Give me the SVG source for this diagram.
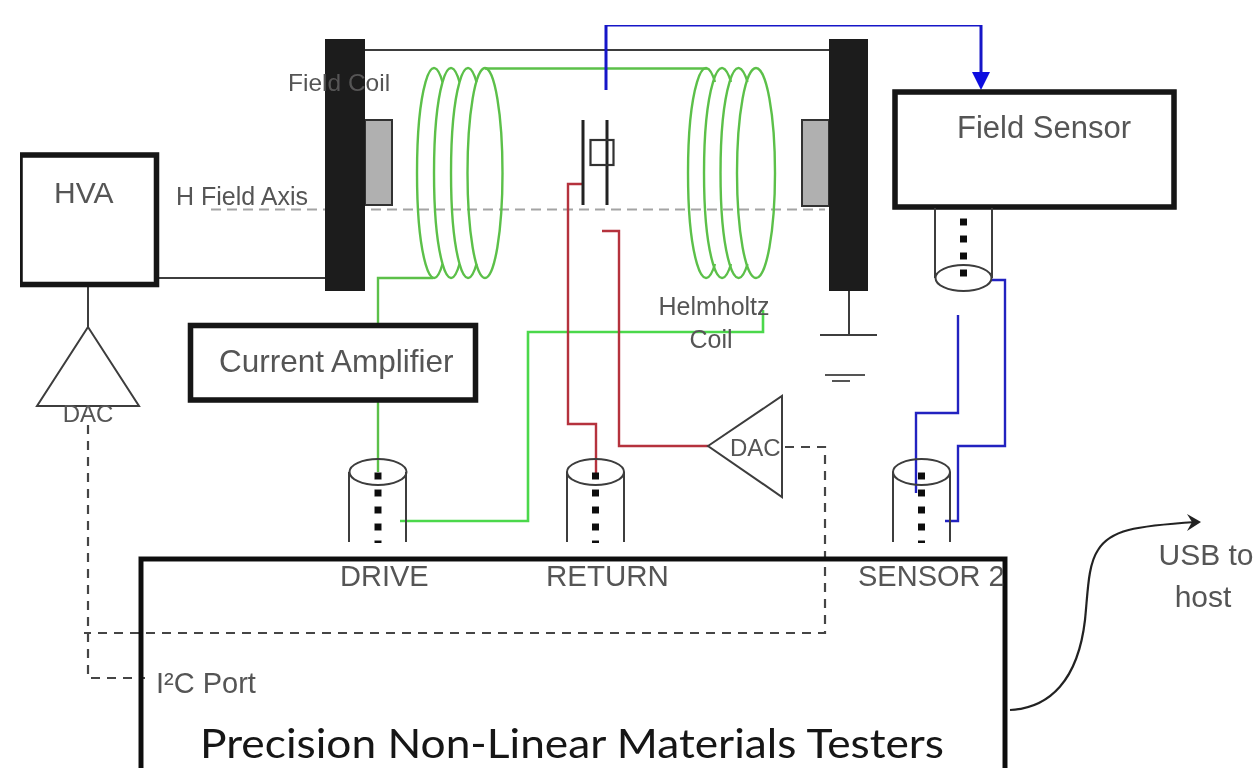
<svg xmlns="http://www.w3.org/2000/svg" width="1260" height="768" viewBox="0 0 1260 768">
<defs>
<style>
.t{font-family:"Liberation Sans",Arial,sans-serif;fill:#555}
.u{font-family:"Lato","Open Sans",sans-serif;fill:#141414}
.bx{fill:none;stroke:#141414;stroke-width:5.500}
.thin{fill:none;stroke:#3c3c3c;stroke-width:2}
.green{fill:none;stroke:#5cc04a;stroke-width:2.400}
.lime{fill:none;stroke:#4cd84c;stroke-width:2.600}
.red{fill:none;stroke:#b5303c;stroke-width:2.400}
.blue{fill:none;stroke:#2020c0;stroke-width:2.400}
.dash{fill:none;stroke:#444;stroke-width:2.200;stroke-dasharray:9 7}
.dots{stroke:#111;stroke-width:7;stroke-dasharray:7 10;fill:none}
.block{fill:#b0b0b0;stroke:#333;stroke-width:2}
.bar{fill:#1d1a1b}
</style>
<filter id="soft" x="0" y="0" width="100%" height="100%"><feGaussianBlur stdDeviation="0.6"/></filter>
</defs>
<rect width="1260" height="768" fill="#fff"/>
<g filter="url(#soft)">
<g id="connectors">
<path class="thin" d="M365 50H829"/>
<path class="thin" d="M156 278H325"/>
<path class="thin" d="M88 286V327"/>
<path class="thin" d="M849 291V335"/>
<path d="M211 209.500H825" fill="none" stroke="#a4a4a4" stroke-width="2.200" stroke-dasharray="10 6"/>
<path class="green" d="M485 68.500H707"/>
<path class="green" d="M433 278H378V325M378 400V472"/>
<path class="lime" d="M400 521H528V332H763V310"/>
<path class="red" d="M582 184H568V424H596V475"/>
<path class="red" d="M602 231H619V446H708"/>
<path d="M606 90V25H981V74" fill="none" stroke="#1414c8" stroke-width="3"/>
<path d="M972 72H990L981 90Z" fill="#1010e0"/>
<path class="blue" d="M986 280H1005V446H958V521H945"/>
<path class="blue" d="M958 315V413H916V493"/>
<path class="dash" d="M785 447H825V633H84"/>
<path class="dash" d="M88 425V678H145"/>
<path d="M1010 710C1050 708 1078 680 1085 620C1088 590 1088 565 1098 550C1110 530 1135 526 1196 522" fill="none" stroke="#222" stroke-width="2.200"/>
<path d="M1187 514L1201 522L1187 531L1192 522Z" fill="#222"/>
</g>
<g id="field-coil-left">
<rect class="block" x="365" y="120" width="27" height="85"/>
<rect class="bar" x="325" y="39" width="40" height="252"/>
<text class="t" x="288" y="91" font-size="24.500">Field Coil</text>
</g>
<g id="field-coil-right">
<rect class="block" x="802" y="120" width="27" height="86"/>
<rect class="bar" x="829" y="39" width="39" height="252"/>
</g>
<g id="left-coil">
<path class="green" d="M442.500 82A17 105 0 1 0 442.500 264"/>
<path class="green" d="M459.500 82A17 105 0 1 0 459.500 264"/>
<path class="green" d="M476.500 82A17 105 0 1 0 476.500 264"/>
<ellipse class="green" cx="485" cy="173" rx="17.500" ry="105"/>
</g>
<g id="right-coil">
<path class="green" d="M715 82A18 105 0 1 0 715 264"/>
<path class="green" d="M731 82A18 105 0 1 0 731 264"/>
<path class="green" d="M747.500 82A18 105 0 1 0 747.500 264"/>
<ellipse class="green" cx="756" cy="173" rx="19" ry="105"/>
</g>
<g id="axis-label"><text class="t" x="176" y="205" font-size="25">H Field Axis</text></g>
<g id="helmholtz-label">
<text class="t" x="714" y="315" font-size="25" text-anchor="middle">Helmholtz</text>
<text class="t" x="711" y="348" font-size="25" text-anchor="middle">Coil</text>
</g>
<g id="sample">
<path d="M583 120V205M607 120V205" fill="none" stroke="#222" stroke-width="3"/>
<rect x="590.500" y="140" width="23" height="25" fill="none" stroke="#333" stroke-width="2.200"/>
</g>
<g id="hva">
<rect class="bx" x="20" y="155" width="136.500" height="129.500"/>
<text class="t" x="54" y="203" font-size="30">HVA</text>
</g>
<g id="dac-left">
<path class="thin" d="M88 327L37 406H139Z"/>
<text class="t" x="88" y="422" font-size="24" text-anchor="middle">DAC</text>
</g>
<g id="current-amplifier">
<rect class="bx" x="190.500" y="325.500" width="285" height="74.500"/>
<text class="t" x="219" y="372" font-size="31.500">Current Amplifier</text>
</g>
<g id="field-sensor">
<rect class="bx" x="895" y="92" width="279" height="115"/>
<text class="t" x="957" y="138" font-size="31">Field Sensor</text>
<path class="thin" d="M935 208V278M992 208V278"/>
<ellipse cx="963.500" cy="278" rx="28" ry="13" fill="#fff" stroke="#3c3c3c" stroke-width="2"/>
<path class="dots" d="M963.500 218.500V277"/>
</g>
<g id="ground"><path class="thin" d="M820 335H877"/><path d="M825 375H865M832 381H850" fill="none" stroke="#555" stroke-width="2"/></g>
<g id="dac-right">
<path class="thin" d="M708 446L782 396V497Z"/>
<text class="t" x="730" y="456" font-size="24">DAC</text>
</g>
<g id="drive">
<path class="thin" d="M349 472V542M406 472V542"/>
<ellipse cx="378" cy="472" rx="28.500" ry="13" fill="none" stroke="#3c3c3c" stroke-width="2"/>
<path class="dots" d="M378 472.500V543"/>
</g>
<g id="return">
<path class="thin" d="M567 472V542M624 472V542"/>
<ellipse cx="595.500" cy="472" rx="28.500" ry="13" fill="none" stroke="#3c3c3c" stroke-width="2"/>
<path class="dots" d="M595.500 472.500V543"/>
</g>
<g id="sensor">
<path class="thin" d="M893 472V542M950 472V542"/>
<ellipse cx="921.500" cy="472" rx="28.500" ry="13" fill="none" stroke="#3c3c3c" stroke-width="2"/>
<path class="dots" d="M921.500 472.500V543"/>
</g>
<g id="tester">
<path d="M141 768V559H1005V768" fill="none" stroke="#111" stroke-width="5"/>
<text class="t" x="340" y="586" font-size="29">DRIVE</text>
<text class="t" x="546" y="586" font-size="29.500">RETURN</text>
<text class="t" x="858" y="586" font-size="29">SENSOR 2</text>
<text class="t" x="156" y="693" font-size="29">I²C Port</text>
<text class="u" x="200" y="758" font-size="41" textLength="744" lengthAdjust="spacingAndGlyphs">Precision Non-Linear Materials Testers</text>
</g>
<g id="usb">
<text class="t" x="1206" y="565" font-size="30" text-anchor="middle">USB to</text>
<text class="t" x="1203" y="607" font-size="30" text-anchor="middle">host</text>
</g>
</g>
</svg>
